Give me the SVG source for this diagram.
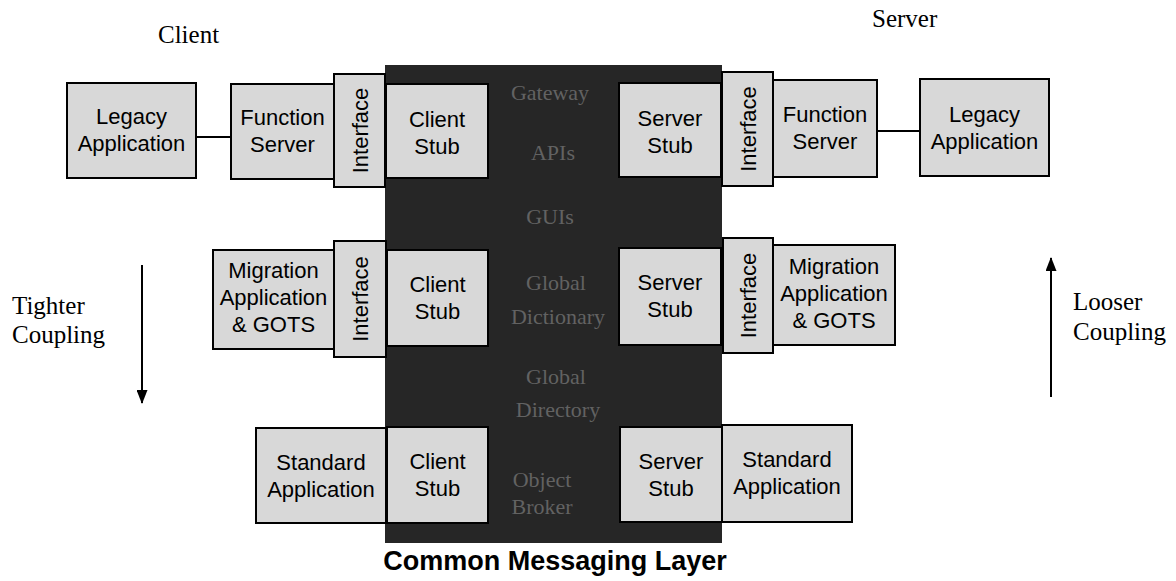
<svg xmlns="http://www.w3.org/2000/svg" width="1176" height="581" viewBox="0 0 1176 581">
  <style>
    .box { fill: #d8d8d8; stroke: #000; stroke-width: 2; }
    .lbl { font-family: "Liberation Sans", Arial, sans-serif; font-size: 22px; fill: #000; text-anchor: middle; }
    .side { font-family: "Liberation Serif", "Times New Roman", serif; font-size: 25px; fill: #000; }
    .layer { fill: #262626; }
    .svc { font-family: "Liberation Serif", "Times New Roman", serif; font-size: 22px; fill: #626262; text-anchor: middle; }
    .title { font-family: "Liberation Sans", Arial, sans-serif; font-size: 27px; font-weight: bold; fill: #000; text-anchor: middle; }
    .link { stroke: #000; stroke-width: 2; fill: none; }
  </style>
  <defs>
    <marker id="head" viewBox="0 0 14 11" refX="13" refY="5.5" markerWidth="7" markerHeight="5.5" markerUnits="strokeWidth" orient="auto">
      <path d="M0,0 L14,5.5 L0,11 z" fill="#000"/>
    </marker>
  </defs>
  <rect width="1176" height="581" fill="#fff"/>

  <!-- side headings -->
  <text class="side" x="158" y="43">Client</text>
  <text class="side" x="872" y="27">Server</text>

  <!-- common messaging layer -->
  <g id="messaging-layer">
    <rect class="layer" x="385" y="65" width="337" height="478"/>
    <text class="svc" x="550" y="100">Gateway</text>
    <text class="svc" x="553" y="160">APIs</text>
    <text class="svc" x="550" y="224">GUIs</text>
    <text class="svc" x="556" y="290">Global</text>
    <text class="svc" x="558" y="324">Dictionary</text>
    <text class="svc" x="556" y="384">Global</text>
    <text class="svc" x="558" y="417">Directory</text>
    <text class="svc" x="542" y="487">Object</text>
    <text class="svc" x="542" y="514">Broker</text>
  </g>
  <text class="title" x="555" y="570">Common Messaging Layer</text>

  <!-- connectors -->
  <g id="connectors">
    <line class="link" x1="196" y1="137" x2="231" y2="137"/>
    <line class="link" x1="877" y1="131" x2="920" y2="131"/>
    <line class="link" x1="142" y1="265" x2="142" y2="403" marker-end="url(#head)"/>
    <line class="link" x1="1051" y1="397" x2="1051" y2="258" marker-end="url(#head)"/>
  </g>

  <!-- coupling labels -->
  <text class="side" x="12" y="314">Tighter</text>
  <text class="side" x="12" y="343">Coupling</text>
  <text class="side" x="1073" y="310">Looser</text>
  <text class="side" x="1073" y="340">Coupling</text>

  <!-- top row -->
  <g id="legacy-client">
    <rect class="box" x="67" y="83" width="129" height="95"/>
    <text class="lbl" x="131.5" y="124">Legacy</text>
    <text class="lbl" x="131.5" y="151">Application</text>
  </g>
  <g id="function-server-client">
    <rect class="box" x="231" y="84" width="103" height="95"/>
    <text class="lbl" x="282.5" y="125">Function</text>
    <text class="lbl" x="282.5" y="152">Server</text>
  </g>
  <g id="interface-client-top">
    <rect class="box" x="334" y="74" width="51" height="113"/>
    <text class="lbl" transform="translate(368,130.5) rotate(-90)">Interface</text>
  </g>
  <g id="client-stub-top">
    <rect class="box" x="386" y="84" width="102" height="94"/>
    <text class="lbl" x="437" y="127">Client</text>
    <text class="lbl" x="437" y="154">Stub</text>
  </g>
  <g id="server-stub-top">
    <rect class="box" x="619" y="83" width="102" height="94"/>
    <text class="lbl" x="670" y="126">Server</text>
    <text class="lbl" x="670" y="153">Stub</text>
  </g>
  <g id="interface-server-top">
    <rect class="box" x="722" y="72" width="51" height="114"/>
    <text class="lbl" transform="translate(756,129) rotate(-90)">Interface</text>
  </g>
  <g id="function-server-server">
    <rect class="box" x="773" y="80" width="104" height="97"/>
    <text class="lbl" x="825" y="122">Function</text>
    <text class="lbl" x="825" y="149">Server</text>
  </g>
  <g id="legacy-server">
    <rect class="box" x="920" y="79" width="129" height="97"/>
    <text class="lbl" x="984.5" y="122">Legacy</text>
    <text class="lbl" x="984.5" y="149">Application</text>
  </g>

  <!-- middle row -->
  <g id="migration-client">
    <rect class="box" x="213" y="250" width="121" height="99"/>
    <text class="lbl" x="273.5" y="278">Migration</text>
    <text class="lbl" x="273.5" y="305">Application</text>
    <text class="lbl" x="273.5" y="332">&amp; GOTS</text>
  </g>
  <g id="interface-client-mid">
    <rect class="box" x="334" y="241" width="52" height="116"/>
    <text class="lbl" transform="translate(368,299) rotate(-90)">Interface</text>
  </g>
  <g id="client-stub-mid">
    <rect class="box" x="387" y="250" width="101" height="96"/>
    <text class="lbl" x="437.5" y="292">Client</text>
    <text class="lbl" x="437.5" y="319">Stub</text>
  </g>
  <g id="server-stub-mid">
    <rect class="box" x="619" y="248" width="102" height="97"/>
    <text class="lbl" x="670" y="290">Server</text>
    <text class="lbl" x="670" y="317">Stub</text>
  </g>
  <g id="interface-server-mid">
    <rect class="box" x="723" y="238" width="50" height="115"/>
    <text class="lbl" transform="translate(756,295.5) rotate(-90)">Interface</text>
  </g>
  <g id="migration-server">
    <rect class="box" x="773" y="245" width="122" height="100"/>
    <text class="lbl" x="834" y="274">Migration</text>
    <text class="lbl" x="834" y="301">Application</text>
    <text class="lbl" x="834" y="328">&amp; GOTS</text>
  </g>

  <!-- bottom row -->
  <g id="standard-client">
    <rect class="box" x="256" y="428" width="130" height="95"/>
    <text class="lbl" x="321" y="470">Standard</text>
    <text class="lbl" x="321" y="497">Application</text>
  </g>
  <g id="client-stub-bottom">
    <rect class="box" x="387" y="427" width="101" height="96"/>
    <text class="lbl" x="437.5" y="469">Client</text>
    <text class="lbl" x="437.5" y="496">Stub</text>
  </g>
  <g id="server-stub-bottom">
    <rect class="box" x="620" y="427" width="102" height="95"/>
    <text class="lbl" x="671" y="469">Server</text>
    <text class="lbl" x="671" y="496">Stub</text>
  </g>
  <g id="standard-server">
    <rect class="box" x="722" y="425" width="130" height="97"/>
    <text class="lbl" x="787" y="467">Standard</text>
    <text class="lbl" x="787" y="494">Application</text>
  </g>
</svg>
